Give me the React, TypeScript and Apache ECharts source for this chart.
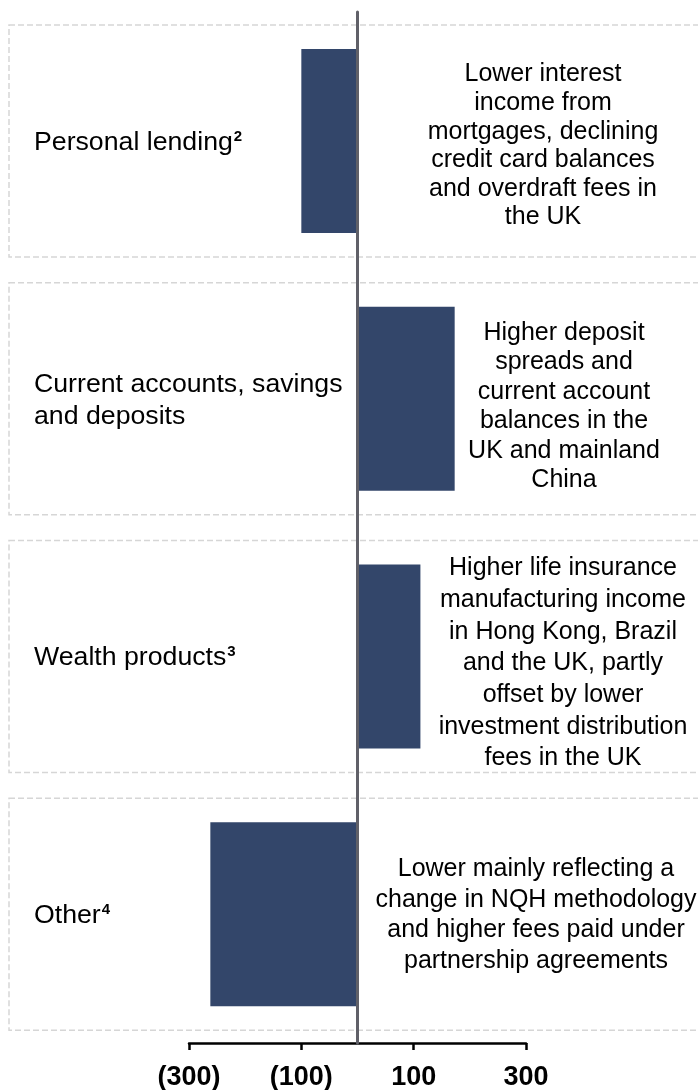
import React, { useEffect, useRef } from "react";
import * as echarts from "echarts";

const categories = ["Personal lending", "Current accounts, savings and deposits", "Wealth products", "Other"];
const labelLines = [["Personal lending"], ["Current accounts, savings", "and deposits"], ["Wealth products"], ["Other"]];
const footnotes = ["2", "", "3", "4"];
const values = [-100, 173, 112, -262];
const descriptions = [
  "Lower interest\nincome from\nmortgages, declining\ncredit card balances\nand overdraft fees in\nthe UK",
  "Higher deposit\nspreads and\ncurrent account\nbalances in the\nUK and mainland\nChina",
  "Higher life insurance\nmanufacturing income\nin Hong Kong, Brazil\nand the UK, partly\noffset by lower\ninvestment distribution\nfees in the UK",
  "Lower mainly reflecting a\nchange in NQH methodology\nand higher fees paid under\npartnership agreements",
];
const descCenterX = [543, 564, 563, 536];
const descOffsetY = [3, 6, 5, -1];
const descLineHeight = [28.6, 29.5, 31.7, 30.7];
const axisMin = -300;
const axisMax = 300;
const axisInterval = 200;

const FONT = "'Liberation Sans', Arial, sans-serif";

export default function App() {
  const ref = useRef<HTMLDivElement>(null);
  useEffect(() => {
    if (!ref.current) return;
    const chart = echarts.init(ref.current, null, { renderer: "svg" });
    const option: any = {
      animation: false,
      grid: { left: 189, right: 172, top: 12, bottom: 47, containLabel: false },
      xAxis: {
        type: "value",
        min: axisMin,
        max: axisMax,
        interval: axisInterval,
        splitLine: { show: false },
        axisLine: { show: true, onZero: false, lineStyle: { color: "#000", width: 2.5 } },
        axisTick: { show: true, length: 7, lineStyle: { color: "#000", width: 2.5 } },
        axisLabel: {
          fontFamily: FONT,
          fontSize: 27,
          fontWeight: "bold",
          color: "#000",
          margin: 19,
          formatter: (v: number) => (v < 0 ? `(${-v})` : `${v}`),
        },
      },
      yAxis: [
        {
          type: "category",
          data: categories,
          inverse: true,
          z: 10,
          axisLine: { show: true, onZero: true, lineStyle: { color: "#606068", width: 3 } },
          axisTick: { show: false },
          axisLabel: { show: false },
          splitLine: { show: false },
        },
        {
          type: "category",
          data: categories,
          inverse: true,
          position: "left",
          axisLine: { show: false, onZero: false },
          axisTick: { show: false },
          splitLine: { show: false },
          axisLabel: {
            align: "left",
            margin: 155,
            formatter: (_: string, idx: number) => {
              const lines = labelLines[idx];
              const fn = footnotes[idx];
              return lines
                .map((l, k) => `{a|${l}}` + (k === lines.length - 1 && fn ? `{s|${fn}}` : ""))
                .join("\n");
            },
            rich: {
              a: { fontFamily: FONT, fontSize: 26.7, color: "#000", lineHeight: 32 },
              s: { fontFamily: FONT, fontSize: 15, fontWeight: "bold", color: "#000", lineHeight: 15, verticalAlign: "top", padding: [3, 0, 0, 1] },
            },
          },
        },
      ],
      series: [
        {
          type: "bar",
          yAxisIndex: 0,
          data: values,
          barWidth: 184,
          itemStyle: { color: "#33466A" },
          z: 2,
        },
      ],
    };
    chart.setOption(option);

    const graphics: any[] = [];
    categories.forEach((c, i) => {
      const cy = chart.convertToPixel({ yAxisIndex: 0 }, c) as number;
      graphics.push({
        type: "rect",
        z: -10,
        silent: true,
        shape: { x: 9, y: cy - 116, width: 700, height: 232 },
        style: { fill: "none", stroke: "#d6d6d6", lineWidth: 1.5, lineDash: [6, 3] },
      });
      graphics.push({
        type: "text",
        z: 5,
        x: descCenterX[i],
        y: cy + descOffsetY[i],
        style: {
          text: descriptions[i],
          fontFamily: FONT,
          fontSize: 25,
          lineHeight: descLineHeight[i],
          fill: "#000",
          align: "center",
          verticalAlign: "middle",
        },
      });
    });
    chart.setOption({ graphic: graphics });

    return () => chart.dispose();
  }, []);
  return <div ref={ref} style={{ position: "fixed", left: 0, top: 0, width: 698, height: 1090 }} />;
}
